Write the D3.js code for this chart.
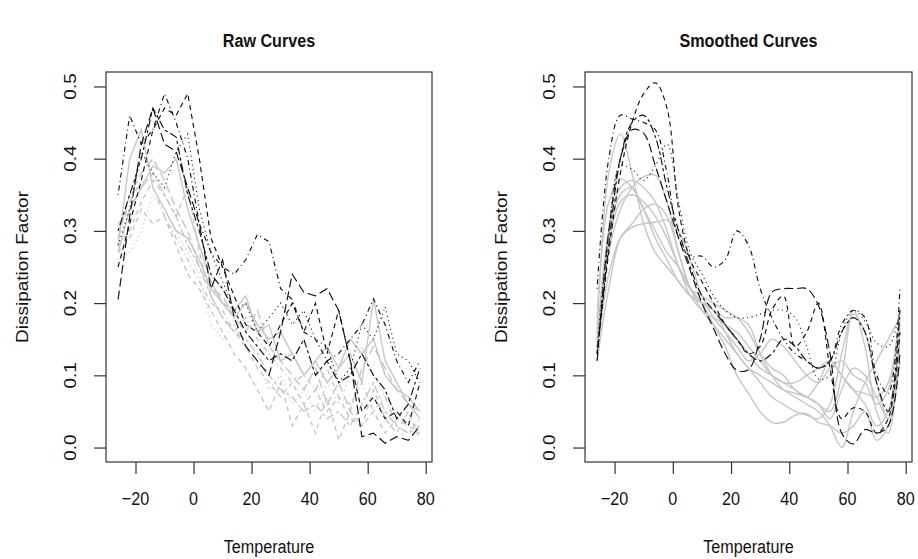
<!DOCTYPE html>
<html>
<head>
<meta charset="utf-8">
<script src="https://cdn.jsdelivr.net/npm/d3@7"></script>
<style>
  body { margin: 0; background: #fff; }
  text { font-family: "Liberation Sans", Arial, Helvetica, sans-serif; fill: #111; }
</style>
</head>
<body>
<div id="chart"></div>
<script>
// temperature grid shared by every curve
const temps = [-26, -22, -18, -14, -10, -6, -2, 2, 6, 10, 14, 18, 22, 26, 30, 34, 38, 42, 46, 50, 54, 58, 62, 66, 70, 74, 78];

// raw curves, black group
const rawBlack = [
  [0.25, 0.31, 0.37, 0.44, 0.47, 0.46, 0.49, 0.40, 0.29, 0.25, 0.21, 0.17, 0.16, 0.14, 0.17, 0.20, 0.16, 0.20, 0.13, 0.19, 0.12, 0.05, 0.07, 0.04, 0.05, 0.03, 0.09],
  [0.35, 0.46, 0.42, 0.44, 0.49, 0.45, 0.40, 0.31, 0.27, 0.25, 0.24, 0.26, 0.295, 0.285, 0.22, 0.205, 0.16, 0.15, 0.12, 0.13, 0.15, 0.17, 0.206, 0.17, 0.12, 0.09, 0.12],
  [0.205, 0.32, 0.42, 0.47, 0.42, 0.41, 0.36, 0.31, 0.22, 0.26, 0.18, 0.14, 0.12, 0.10, 0.16, 0.24, 0.215, 0.21, 0.22, 0.19, 0.12, 0.015, 0.02, 0.006, 0.015, 0.01, 0.03],
  [0.28, 0.33, 0.41, 0.38, 0.36, 0.41, 0.434, 0.33, 0.27, 0.23, 0.19, 0.20, 0.16, 0.18, 0.20, 0.17, 0.19, 0.15, 0.14, 0.09, 0.11, 0.17, 0.15, 0.195, 0.13, 0.12, 0.09],
  [0.30, 0.35, 0.40, 0.47, 0.44, 0.43, 0.35, 0.30, 0.24, 0.22, 0.19, 0.16, 0.14, 0.12, 0.13, 0.12, 0.15, 0.10, 0.12, 0.09, 0.10, 0.13, 0.10, 0.08, 0.04, 0.06, 0.11]
];

// raw curves, gray group
const rawGray = [
  [0.28, 0.40, 0.44, 0.36, 0.33, 0.30, 0.29, 0.26, 0.22, 0.20, 0.19, 0.21, 0.16, 0.17, 0.12, 0.13, 0.10, 0.12, 0.14, 0.11, 0.13, 0.09, 0.206, 0.12, 0.09, 0.06, 0.04],
  [0.27, 0.29, 0.33, 0.31, 0.32, 0.28, 0.24, 0.22, 0.19, 0.16, 0.13, 0.11, 0.08, 0.05, 0.09, 0.03, 0.06, 0.02, 0.07, 0.01, 0.05, 0.03, 0.08, 0.04, 0.02, 0.05, 0.01],
  [0.26, 0.27, 0.30, 0.35, 0.33, 0.30, 0.27, 0.24, 0.17, 0.15, 0.17, 0.14, 0.12, 0.08, 0.10, 0.06, 0.08, 0.05, 0.09, 0.06, 0.10, 0.14, 0.10, 0.07, 0.05, 0.04, 0.06],
  [0.30, 0.34, 0.37, 0.36, 0.32, 0.29, 0.26, 0.23, 0.20, 0.19, 0.16, 0.18, 0.15, 0.13, 0.11, 0.09, 0.10, 0.08, 0.11, 0.07, 0.06, 0.09, 0.05, 0.07, 0.03, 0.02, 0.04],
  [0.29, 0.35, 0.38, 0.40, 0.37, 0.33, 0.30, 0.25, 0.22, 0.21, 0.18, 0.16, 0.19, 0.14, 0.12, 0.10, 0.08, 0.11, 0.06, 0.09, 0.05, 0.11, 0.14, 0.11, 0.08, 0.06, 0.05],
  [0.31, 0.33, 0.36, 0.38, 0.35, 0.32, 0.28, 0.25, 0.21, 0.18, 0.16, 0.15, 0.13, 0.10, 0.08, 0.07, 0.05, 0.06, 0.04, 0.05, 0.03, 0.06, 0.09, 0.05, 0.03, 0.02, 0.03],
  [0.27, 0.33, 0.36, 0.39, 0.38, 0.40, 0.33, 0.28, 0.23, 0.20, 0.18, 0.20, 0.17, 0.15, 0.16, 0.13, 0.10, 0.12, 0.09, 0.11, 0.15, 0.13, 0.15, 0.10, 0.08, 0.07, 0.05],
  [0.28, 0.30, 0.34, 0.37, 0.35, 0.32, 0.36, 0.27, 0.21, 0.18, 0.16, 0.14, 0.11, 0.09, 0.07, 0.09, 0.06, 0.08, 0.05, 0.07, 0.04, 0.03, 0.05, 0.02, 0.04, 0.03, 0.02]
];

// smoothed curves, black group
const smoothBlack = [
  [0.13, 0.27, 0.38, 0.45, 0.49, 0.505, 0.47, 0.33, 0.26, 0.23, 0.20, 0.17, 0.15, 0.13, 0.14, 0.19, 0.21, 0.14, 0.16, 0.20, 0.11, 0.04, 0.055, 0.05, 0.02, 0.04, 0.16],
  [0.22, 0.40, 0.46, 0.455, 0.45, 0.44, 0.38, 0.29, 0.265, 0.265, 0.25, 0.26, 0.30, 0.28, 0.22, 0.18, 0.15, 0.13, 0.12, 0.11, 0.12, 0.17, 0.19, 0.18, 0.10, 0.075, 0.22],
  [0.12, 0.30, 0.40, 0.44, 0.435, 0.39, 0.34, 0.29, 0.245, 0.20, 0.165, 0.13, 0.107, 0.108, 0.15, 0.215, 0.22, 0.22, 0.22, 0.197, 0.13, 0.02, 0.005, 0.025, 0.02, 0.03, 0.13],
  [0.14, 0.30, 0.39, 0.385, 0.37, 0.39, 0.42, 0.34, 0.27, 0.24, 0.21, 0.19, 0.18, 0.18, 0.185, 0.19, 0.19, 0.18, 0.14, 0.095, 0.10, 0.16, 0.19, 0.175, 0.145, 0.14, 0.19],
  [0.13, 0.28, 0.40, 0.45, 0.46, 0.43, 0.36, 0.30, 0.25, 0.21, 0.19, 0.17, 0.15, 0.13, 0.12, 0.13, 0.15, 0.14, 0.12, 0.11, 0.12, 0.16, 0.18, 0.16, 0.09, 0.05, 0.19]
];

// smoothed curves, gray group
const smoothGray = [
  [0.16, 0.38, 0.434, 0.38, 0.31, 0.27, 0.25, 0.23, 0.21, 0.20, 0.19, 0.17, 0.15, 0.13, 0.11, 0.10, 0.09, 0.08, 0.07, 0.06, 0.05, 0.10, 0.19, 0.14, 0.05, 0.02, 0.18],
  [0.18, 0.34, 0.372, 0.36, 0.33, 0.29, 0.26, 0.23, 0.21, 0.20, 0.19, 0.16, 0.13, 0.11, 0.09, 0.07, 0.06, 0.05, 0.045, 0.04, 0.06, 0.13, 0.185, 0.16, 0.09, 0.04, 0.16],
  [0.15, 0.27, 0.33, 0.36, 0.375, 0.377, 0.34, 0.27, 0.22, 0.20, 0.19, 0.18, 0.18, 0.17, 0.13, 0.10, 0.08, 0.07, 0.06, 0.05, 0.03, 0.0, 0.05, 0.09, 0.12, 0.15, 0.18],
  [0.13, 0.29, 0.35, 0.36, 0.33, 0.30, 0.27, 0.25, 0.22, 0.20, 0.17, 0.14, 0.10, 0.075, 0.05, 0.035, 0.035, 0.045, 0.047, 0.035, 0.03, 0.02, 0.03, 0.05, 0.01, 0.03, 0.12],
  [0.12, 0.22, 0.29, 0.31, 0.33, 0.337, 0.32, 0.27, 0.22, 0.19, 0.17, 0.15, 0.13, 0.11, 0.10, 0.09, 0.08, 0.075, 0.07, 0.06, 0.04, 0.08, 0.11, 0.10, 0.07, 0.04, 0.15],
  [0.13, 0.24, 0.29, 0.305, 0.31, 0.312, 0.315, 0.30, 0.26, 0.21, 0.18, 0.16, 0.14, 0.12, 0.13, 0.15, 0.14, 0.12, 0.10, 0.09, 0.11, 0.12, 0.10, 0.09, 0.06, 0.08, 0.19],
  [0.14, 0.28, 0.34, 0.35, 0.34, 0.32, 0.29, 0.25, 0.21, 0.19, 0.18, 0.17, 0.16, 0.14, 0.12, 0.10, 0.09, 0.09, 0.10, 0.11, 0.12, 0.10, 0.08, 0.06, 0.03, 0.05, 0.17],
  [0.15, 0.30, 0.36, 0.37, 0.36, 0.34, 0.30, 0.25, 0.22, 0.21, 0.20, 0.19, 0.18, 0.16, 0.13, 0.11, 0.10, 0.08, 0.07, 0.09, 0.12, 0.10, 0.08, 0.075, 0.07, 0.09, 0.19]
];

const xTicks = [-20, 0, 20, 40, 60, 80];
const yTicks = [0, 0.1, 0.2, 0.3, 0.4, 0.5];
const titles = ["Raw Curves", "Smoothed Curves"];
const xLabel = "Temperature",
    yLabel = "Dissipation Factor";

// line types (R lty 1..6 as svg dash arrays)
const lty = {
    solid: null,
    dashed: "5,4",
    dotted: "1,3.5",
    dotdash: "1,3.5,5,3.5",
    longdash: "9,4",
    twodash: "3,3,8,3"
};
const blackLty = ["dashed", "dotdash", "longdash", "dotted", "twodash"];
const grayLty = ["solid", "dashed", "dotted", "dotdash", "longdash", "twodash", "solid", "dashed"];

const width = 918,
    height = 559;

const panels = [
    { left: 106, right: 432 },
    { left: 585, right: 912 }
];
const plotTop = 72,
    plotBottom = 462;

const xs = 0.85; // glyphs in the picture are a bit narrow

const svg = d3.select("#chart")
    .append("svg")
    .attr("width", width)
    .attr("height", height)
    .attr("viewBox", [0, 0, width, height]);

function label(g, txt, x, y, opts) {
    opts = opts || {};
    let t = g.append("text")
        .attr("transform", `translate(${x},${y}) scale(${xs},1)` + (opts.rotate ? " rotate(-90)" : ""))
        .attr("text-anchor", "middle")
        .style("font-size", (opts.size || 19) + "px")
        .text(txt);
    if (opts.bold) t.style("font-weight", "bold");
    return t;
}

function drawPanel(p, idx, black, gray, blackDash, grayDash, smooth) {
    let xScale = d3.scaleLinear()
        .domain([-26 - 0.04 * 104, 78 + 0.04 * 104])
        .range([p.left, p.right]);
    let yScale = d3.scaleLinear()
        .domain([-0.02, 0.52])
        .range([plotBottom, plotTop]);

    let g = svg.append("g");

    let line = d3.line()
        .x((d, i) => xScale(temps[i]))
        .y(d => yScale(d))
        .curve(smooth ? d3.curveCatmullRom.alpha(0.5) : d3.curveLinear);

    // gray group first, black on top
    g.append("g")
        .selectAll("path")
        .data(gray)
        .enter()
        .append("path")
        .attr("d", d => line(d))
        .attr("fill", "none")
        .attr("stroke", "#c6c6c6")
        .attr("stroke-width", 1.4)
        .attr("stroke-dasharray", (d, i) => lty[grayDash[i % grayDash.length]]);

    g.append("g")
        .selectAll("path")
        .data(black)
        .enter()
        .append("path")
        .attr("d", d => line(d))
        .attr("fill", "none")
        .attr("stroke", "#111")
        .attr("stroke-width", 1.15)
        .attr("stroke-dasharray", (d, i) => lty[blackDash[i % blackDash.length]]);

    // frame
    g.append("rect")
        .attr("x", p.left)
        .attr("y", plotTop)
        .attr("width", p.right - p.left)
        .attr("height", plotBottom - plotTop)
        .attr("fill", "none")
        .attr("stroke", "#333")
        .attr("stroke-width", 1.2);

    // x axis
    let xAxis = g.append("g")
        .attr("transform", `translate(0,${plotBottom})`)
        .call(d3.axisBottom(xScale).tickValues(xTicks).tickSize(12).tickFormat(""));
    xAxis.select(".domain").remove();
    xAxis.selectAll("line").attr("stroke", "#333").attr("stroke-width", 1.2);
    xTicks.forEach(v => label(g, d3.format("d")(v).replace("-", "\u2212"), xScale(v), 505));

    // y axis
    let yAxis = g.append("g")
        .attr("transform", `translate(${p.left},0)`)
        .call(d3.axisLeft(yScale).tickValues(yTicks).tickSize(12).tickFormat(""));
    yAxis.select(".domain").remove();
    yAxis.selectAll("line").attr("stroke", "#333").attr("stroke-width", 1.2);
    yTicks.forEach(v => label(g, d3.format(".1f")(v), p.left - 30, yScale(v), { rotate: true }));

    let cx = (p.left + p.right) / 2;
    label(g, titles[idx], cx, 47, { bold: true, size: 19 });
    label(g, xLabel, cx, 553);
    label(g, yLabel, p.left - 78, (plotTop + plotBottom) / 2, { rotate: true });
}

drawPanel(panels[0], 0, rawBlack, rawGray, blackLty, grayLty, false);
drawPanel(panels[1], 1, smoothBlack, smoothGray, blackLty, ["solid"], true);
</script>
</body>
</html>
